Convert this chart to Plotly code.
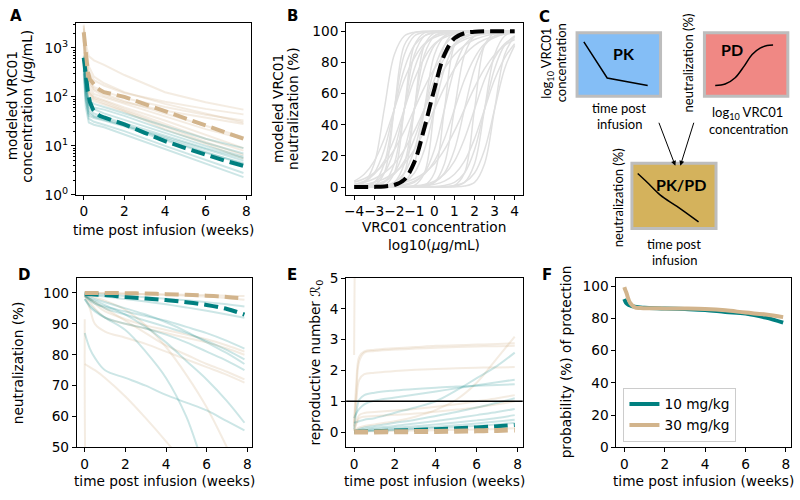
import plotly.graph_objects as go

# ---------------- data ----------------
# Panel A: modeled VRC01 concentration (ug/mL) vs weeks
tA_mean = [0, 0.05, 0.1, 0.2, 0.3, 0.45, 0.6, 0.8, 1, 2, 3, 4, 5, 6, 7, 7.86]
concA_10 = [630, 420, 260, 130, 80, 56, 47, 41, 38, 27.5, 18.5, 12.5, 9, 6.6, 4.9, 3.9]
concA_30 = [2100, 1200, 700, 330, 230, 190, 160, 138, 125, 100, 72, 51, 36, 26, 18.5, 14]
tA_thin = [0, 0.1, 0.25, 0.5, 1, 2, 4, 6, 7.86]
concA_10_indiv = [
    [600, 160, 52, 41, 36, 27, 14, 7.5, 4.2],
    [450, 95, 36, 31, 27, 20, 10, 5.2, 2.8],
    [300, 62, 30, 27, 24, 17, 8.5, 4.3, 2.3],
    [700, 210, 75, 56, 46, 34, 18, 10, 6],
    [520, 130, 68, 61, 55, 41, 21, 11.5, 7],
    [560, 150, 85, 72, 62, 46, 25, 14, 9],
    [400, 105, 46, 39, 34, 26, 15, 8.5, 5],
    [650, 185, 62, 46, 39, 29, 16, 9, 5.6],
    [350, 82, 41, 37, 33, 25, 13, 7.2, 4.5],
]
concA_30_indiv = [
    [2500, 1200, 680, 560, 450, 280, 125, 78, 55],
    [2000, 650, 320, 220, 170, 120, 80, 57, 44],
    [3000, 750, 260, 160, 130, 95, 62, 43, 33],
    [1800, 420, 160, 115, 98, 72, 40, 22, 14],
    [1500, 320, 125, 95, 82, 56, 28, 14, 8],
    [2200, 520, 210, 145, 115, 82, 46, 26, 15],
    [1200, 260, 105, 82, 70, 50, 22, 11, 5.5],
    [2800, 950, 420, 260, 190, 125, 72, 46, 30],
    [1600, 360, 135, 102, 86, 61, 33, 17, 9],
    [2000, 470, 190, 135, 105, 78, 52, 38, 28],
    [1400, 300, 120, 90, 75, 52, 25, 12, 6.5],
]

# Panel B: neutralization (%) vs log10 concentration
xB = [-4, -3.5, -3, -2.5, -2, -1.5, -1, -0.5, 0, 0.5, 1, 1.5, 2, 2.5, 3, 3.5, 4]
neutB_mean = [0, 0, 0.1, 0.4, 1.3, 4.8, 16, 38, 63, 85, 95.5, 98.8, 99.7, 100, 100, 100, 100]
neutB_indiv = [
    [0, 0.1, 1, 9, 50, 91, 99, 100, 100, 100, 100, 100, 100, 100, 100, 100, 100],
    [1, 3, 9, 24, 50, 76, 91, 97, 99, 99.7, 100, 100, 100, 100, 100, 100, 100],
    [0, 0.1, 0.6, 3, 15, 50, 85, 97, 99.4, 99.9, 100, 100, 100, 100, 100, 100, 100],
    [1.7, 3.8, 8.2, 16.6, 31, 50, 69, 83, 92, 96, 98.3, 99.2, 99.6, 99.8, 100, 100, 100],
    [0, 0, 0, 0.1, 1, 9, 50, 91, 99, 100, 100, 100, 100, 100, 100, 100, 100],
    [0.1, 0.3, 1, 3, 9, 24, 50, 76, 91, 97, 99, 99.7, 100, 100, 100, 100, 100],
    [3.1, 5.3, 9.1, 15, 24, 36, 50, 64, 76, 85, 91, 94.7, 96.9, 98.2, 99, 99.4, 99.7],
    [0, 0, 0, 0.1, 0.6, 3, 15, 50, 85, 97, 99.4, 99.9, 100, 100, 100, 100, 100],
    [0.4, 0.8, 1.7, 3.8, 8.2, 16.6, 31, 50, 69, 83, 92, 96, 98.3, 99.2, 99.6, 99.8, 99.9],
    [0, 0, 0.1, 0.3, 1, 3, 9, 24, 50, 76, 91, 97, 99, 99.7, 100, 100, 100],
    [1, 1.7, 3.1, 5.3, 9.1, 15, 24, 36, 50, 64, 76, 85, 91, 94.7, 96.9, 98.2, 99],
    [0, 0, 0, 0, 0, 0, 0.1, 1, 9, 50, 91, 99, 100, 100, 100, 100, 100],
    [0, 0, 0, 0.1, 0.3, 1, 3, 9, 24, 50, 76, 91, 97, 99, 99.7, 100, 100],
    [0, 0, 0, 0, 0, 0, 0.1, 0.6, 3, 15, 50, 85, 97, 99.4, 99.9, 100, 100],
    [0, 0, 0, 0, 0, 0.1, 0.3, 1, 3, 9, 24, 50, 76, 91, 97, 99, 99.7],
    [0, 0, 0, 0, 0, 0, 0, 0, 0, 0.1, 1, 9, 50, 91, 99, 100, 100],
    [0, 0, 0, 0.1, 0.2, 0.4, 0.8, 1.7, 3.8, 8.2, 16.6, 31, 50, 69, 83, 92, 96],
    [0, 0, 0, 0, 0, 0, 0, 0, 0, 0.1, 0.6, 3, 15, 50, 85, 97, 99.4],
    [0, 0, 0, 0, 0, 0, 0, 0.1, 0.3, 1, 3, 9, 24, 50, 76, 91, 97],
    [0, 0, 0, 0, 0, 0, 0, 0, 0.1, 0.3, 1, 3, 9, 24, 50, 76, 91],
    [0, 0, 0, 0, 0, 0, 0, 0, 0, 0, 0.1, 0.6, 3, 15, 50, 85, 97],
    [0.6, 3, 15, 50, 85, 97, 99.4, 99.9, 100, 100, 100, 100, 100, 100, 100, 100, 100],
    [0, 0, 0.1, 1, 9, 50, 91, 99, 100, 100, 100, 100, 100, 100, 100, 100, 100],
    [3.8, 8.2, 16.6, 31, 50, 69, 83, 92, 96, 98.3, 99.2, 99.6, 99.8, 100, 100, 100, 100],
    [0, 0.1, 0.3, 1, 3, 9, 24, 50, 76, 91, 97, 99, 99.7, 100, 100, 100, 100],
    [0, 0, 0, 0, 0, 0.1, 1, 9, 50, 91, 99, 100, 100, 100, 100, 100, 100],
    [0, 0.1, 0.2, 0.4, 0.8, 1.7, 3.8, 8.2, 16.6, 31, 50, 69, 83, 92, 96, 98.3, 99.2],
    [0.3, 1, 3, 9, 24, 50, 76, 91, 97, 99, 99.7, 100, 100, 100, 100, 100, 100],
    [0, 0, 0, 0, 0.1, 0.2, 0.4, 0.8, 1.7, 3.8, 8.2, 16.6, 31, 50, 69, 83, 92],
    [0, 0, 0.1, 0.6, 3, 15, 50, 85, 97, 99.4, 99.9, 100, 100, 100, 100, 100, 100],
    [0.1, 0.6, 3, 15, 50, 85, 97, 99.4, 99.9, 100, 100, 100, 100, 100, 100, 100, 100],
    [1.7, 3.1, 5.3, 9.1, 15, 24, 36, 50, 64, 76, 85, 91, 94.7, 96.9, 98.2, 99, 99.4],
    [0.2, 0.3, 0.6, 1, 1.7, 3.1, 5.3, 9.1, 15, 24, 36, 50, 64, 76, 85, 91, 94.7],
]

# Panel D: neutralization (%) vs weeks
tD = [0, 0.25, 0.5, 1, 2, 3, 4, 5, 6, 7, 7.86]
neutD_10 = [99.7, 99.6, 99.5, 99.3, 98.7, 98.2, 97.7, 97, 96.1, 94.8, 93]
neutD_30 = [100, 100, 100, 100, 99.9, 99.8, 99.6, 99.4, 99.1, 98.7, 98.2]
neutD_10_indiv = [
    [99.5, 99.3, 99.1, 98.8, 98, 97.2, 96.3, 95.3, 94.2, 93, 92],
    [99.8, 99.7, 99.6, 99.4, 99, 98.6, 98.1, 97.6, 97, 96.3, 95.6],
    [99, 97.5, 96.5, 95.5, 94, 92.5, 91, 89, 87, 84.5, 82],
    [99.5, 98, 97, 95, 93, 91, 89, 87, 84.5, 81.5, 78.5],
    [98, 95.5, 94, 92, 90, 88.5, 86.5, 84, 81, 78, 75],
    [99, 98.5, 98, 97, 95, 93, 90.5, 87.5, 84, 80.5, 77],
    [99, 98, 97.5, 96, 93, 89, 84, 78, 72, 65, 58],
    [87, 82, 79, 75, 72.5, 70, 67, 64.5, 62, 58.5, 55.5],
    [98, 96, 94.5, 92, 88, 81, 72.5, 60, 42, 30, 20],
]
neutD_30_indiv = [
    [100, 100, 100, 100, 99.8, 99.6, 99.4, 99.1, 98.8, 98.3, 97.8],
    [100, 99.9, 99.9, 99.8, 99.7, 99.6, 99.5, 99.4, 99.3, 99.1, 99],
    [99, 95, 90, 87.5, 85.5, 83.5, 81, 78.5, 76, 73.5, 71],
    [99.5, 97, 95, 92, 90, 88.5, 87, 85.5, 84, 82, 80],
    [99.5, 98, 96.5, 94, 91.5, 89.5, 88, 86.5, 85, 83, 81],
    [99, 98, 97, 95, 91, 87, 83, 80, 77, 74.5, 72],
    [99.5, 99, 98.5, 97.5, 94.5, 89.5, 82.5, 73.5, 63, 50, 38],
    [77, 76, 75, 72.5, 66.5, 59.5, 52, 44, 36, 28, 22],
    [91.5, 10, 5, 3, 2, 1.5, 1, 1, 1, 1, 1],
]

# Panel E: reproductive number R0 vs weeks
tE = [0, 0.1, 0.25, 0.5, 1, 2, 3, 4, 5, 6, 7, 7.86]
r0E_10 = [0.01, 0.01, 0.02, 0.02, 0.03, 0.05, 0.07, 0.09, 0.12, 0.15, 0.19, 0.23]
r0E_30 = [0, 0, 0, 0, 0.005, 0.01, 0.015, 0.02, 0.03, 0.04, 0.055, 0.07]
r0E_10_indiv = [
    [0.1, 0.6, 1.05, 1.2, 1.28, 1.35, 1.4, 1.44, 1.48, 1.5, 1.53, 1.55],
    [0.45, 0.6, 0.75, 0.9, 1.02, 1.12, 1.22, 1.32, 1.42, 1.52, 1.62, 1.7],
    [0.3, 0.32, 0.35, 0.4, 0.45, 0.63, 0.8, 1.0, 1.35, 1.75, 2.15, 2.58],
    [0.02, 0.05, 0.1, 0.15, 0.2, 0.3, 0.4, 0.52, 0.65, 0.8, 0.95, 1.1],
    [0.02, 0.04, 0.07, 0.1, 0.14, 0.2, 0.28, 0.36, 0.45, 0.55, 0.65, 0.75],
    [0.01, 0.02, 0.04, 0.06, 0.09, 0.14, 0.19, 0.25, 0.31, 0.38, 0.46, 0.55],
    [0.01, 0.02, 0.03, 0.04, 0.06, 0.09, 0.13, 0.17, 0.22, 0.28, 0.34, 0.4],
    [0.0, 0.01, 0.02, 0.03, 0.04, 0.07, 0.1, 0.13, 0.16, 0.2, 0.25, 0.3],
]
r0E_30_indiv = [
    [2.5, 9, 12, 15, 20, 20, 20, 20, 20, 20, 20, 20],
    [0.3, 1.5, 2.45, 2.62, 2.67, 2.72, 2.76, 2.8, 2.82, 2.84, 2.86, 2.88],
    [0.2, 1.2, 2.3, 2.58, 2.63, 2.68, 2.71, 2.74, 2.76, 2.78, 2.79, 2.8],
    [0.15, 0.9, 1.7, 1.88, 1.93, 1.98, 2.02, 2.05, 2.07, 2.09, 2.1, 2.11],
    [0.05, 0.1, 0.15, 0.2, 0.25, 0.35, 0.5, 0.72, 1.05, 1.6, 2.4, 3.1],
    [0.05, 0.3, 0.55, 0.62, 0.65, 0.7, 0.75, 0.82, 0.9, 1.0, 1.1, 1.2],
    [0.05, 0.25, 0.45, 0.5, 0.52, 0.56, 0.6, 0.66, 0.73, 0.8, 0.9, 1.0],
    [0, 0.01, 0.02, 0.02, 0.03, 0.04, 0.05, 0.06, 0.07, 0.08, 0.1, 0.12],
]
r0_threshold = 1

# Panel F: probability (%) of protection vs weeks
tF = [0, 0.05, 0.1, 0.2, 0.3, 0.5, 0.8, 1, 2, 3, 4, 5, 6, 7, 7.86]
protF_10 = [92, 90.5, 89.5, 88.5, 88, 87.3, 86.8, 86.6, 86.2, 85.8, 85.2, 84, 83, 80.5, 77.4]
protF_30 = [99.4, 97.5, 96, 92, 89.4, 87, 86.4, 86.3, 86.2, 86.1, 85.8, 85, 83.6, 82.4, 80.8]
dose_labels = ["10 mg/kg", "30 mg/kg"]

# Panel C schematic curves (diagram units)
pk_sketch_x = [583.3, 606.7, 647.3]
pk_sketch_y = [35, 72.3, 80]
pd_sketch_x = [715, 725, 735, 744, 752, 760, 767, 773]
pd_sketch_y = [80, 78.5, 72, 60, 48, 41.5, 38.8, 38.3]
pkpd_sketch_x = [637.3, 646.7, 660, 676.7, 698.3]
pkpd_sketch_y = [171, 180, 193.3, 205, 221]

# ---------------- styles ----------------
TEAL = "#008080"
TAN = "#d2b48c"
TEAL_L = "rgba(0,128,128,0.2)"
TAN_L = "rgba(210,180,140,0.25)"
GREY = "#e0e0e0"
FONT = "DejaVu Sans"
FS = 13.7
W, H = 800, 500
DASH = "14px,6px"


def px(x):
    return x / W


def py(y):
    return 1 - y / H


fig = go.Figure()


def add(x, y, ax, color, width, dash=None, shape="linear", name=None, legend=False):
    fig.add_trace(go.Scatter(
        x=x, y=y, mode="lines", xaxis="x" + ax, yaxis="y" + ax,
        line=dict(color=color, width=width, dash=dash, shape=shape),
        name=name, showlegend=legend, hoverinfo="skip"))


# A
for c in concA_30_indiv:
    add(tA_thin, c, "", TAN_L, 2)
for c in concA_10_indiv:
    add(tA_thin, c, "", TEAL_L, 2)
add(tA_mean, concA_10, "", TEAL, 4, DASH)
add(tA_mean, concA_30, "", TAN, 4, DASH)

# B
for c in neutB_indiv:
    add(xB, c, "2", GREY, 1.5, shape="spline")
add(xB, neutB_mean, "2", "black", 4, DASH, shape="spline")

# D
for c in neutD_30_indiv:
    add(tD, c, "3", TAN_L, 2, shape="spline")
for c in neutD_10_indiv:
    add(tD, c, "3", TEAL_L, 2, shape="spline")
add(tD, neutD_10, "3", TEAL, 4, DASH, shape="spline")
add(tD, neutD_30, "3", TAN, 4, DASH, shape="spline")

# E
for c in r0E_30_indiv:
    add(tE, c, "4", TAN_L, 2, shape="spline")
for c in r0E_10_indiv:
    add(tE, c, "4", TEAL_L, 2, shape="spline")
add(tE, r0E_10, "4", TEAL, 4, DASH, shape="spline")
add(tE, r0E_30, "4", TAN, 5, DASH, shape="spline")

# F
add(tF, protF_10, "5", TEAL, 4, shape="spline", name=dose_labels[0], legend=True)
add(tF, protF_30, "5", TAN, 4, shape="spline", name=dose_labels[1], legend=True)

# C sketches
add(pk_sketch_x, pk_sketch_y, "6", "black", 1.5)
add(pd_sketch_x, pd_sketch_y, "6", "black", 1.5, shape="spline")
add(pkpd_sketch_x, pkpd_sketch_y, "6", "black", 1.5, shape="spline")

axis_style = dict(showline=True, linecolor="black", linewidth=1, mirror=True,
                  ticks="outside", ticklen=4, tickwidth=1, tickcolor="black",
                  showgrid=False, zeroline=False, tickangle=0,
                  tickfont=dict(family=FONT, size=FS, color="black"))

weeks = [0, 2, 4, 6, 8]
layout_axes = dict(
    xaxis=dict(domain=[px(74), px(250)], range=[-0.39, 8.25], tickvals=weeks, anchor="y", **axis_style),
    yaxis=dict(domain=[py(193), py(16)], type="log", range=[0, 3.5], anchor="x",
               tickvals=[1, 10, 100, 1000],
               ticktext=["10<sup>0</sup>", "10<sup>1</sup>", "10<sup>2</sup>", "10<sup>3</sup>"],
               minor=dict(ticks="outside", ticklen=2, tickwidth=0.8, tickcolor="black",
                          tickvals=[m * 10 ** k for k in range(0, 4) for m in range(2, 10)]),
               **axis_style),
    xaxis2=dict(domain=[px(345), px(522)], range=[-4.4, 4.4], tickvals=list(range(-4, 5)), anchor="y2", **axis_style),
    yaxis2=dict(domain=[py(193), py(16)], range=[-5, 105], tickvals=[0, 20, 40, 60, 80, 100], anchor="x2", **axis_style),
    xaxis3=dict(domain=[px(75), px(251)], range=[-0.39, 8.25], tickvals=weeks, anchor="y3", **axis_style),
    yaxis3=dict(domain=[py(454), py(279)], range=[50, 104.8], tickvals=[50, 60, 70, 80, 90, 100], anchor="x3", **axis_style),
    xaxis4=dict(domain=[px(345), px(522)], range=[-0.39, 8.25], tickvals=weeks, anchor="y4", **axis_style),
    yaxis4=dict(domain=[py(454), py(279)], range=[-0.5, 5], tickvals=[0, 1, 2, 3, 4, 5], anchor="x4", **axis_style),
    xaxis5=dict(domain=[px(616), px(791)], range=[-0.39, 8.25], tickvals=weeks, anchor="y5", **axis_style),
    yaxis5=dict(domain=[py(454), py(279)], range=[0, 105], tickvals=[0, 20, 40, 60, 80, 100], anchor="x5", **axis_style),
    xaxis6=dict(domain=[px(530), 1], range=[530, 800], visible=False, anchor="y6"),
    yaxis6=dict(domain=[py(262), 1], range=[262, 0], visible=False, anchor="x6"),
)

ann = []


def text(x, y, s, size=FS, angle=0, bold=False, family=FONT):
    ann.append(dict(x=px(x), y=py(y), xref="paper", yref="paper", text=("<b>%s</b>" % s) if bold else s,
                    showarrow=False, xanchor="center", yanchor="middle", textangle=angle,
                    font=dict(family=family, size=size, color="black")))


# panel letters
for lab, x, y in [("A", 13.8, 8.7), ("B", 291.3, 8.7), ("C", 544, 9), ("D", 21.7, 276), ("E", 291, 275.5), ("F", 546.7, 275.5)]:
    text(x, y, lab, size=15, bold=True)

# axis titles
text(162, 229, "time post infusion (weeks)")
text(9.5, 101, "modeled VRC01", angle=-90)
text(25, 101, "concentration (<i>μ</i>g/mL)", angle=-90)
text(433.5, 226.7, "VRC01 concentration")
text(433.5, 244.5, "log10(<i>μ</i>g/mL)")
text(276, 104, "modeled VRC01", angle=-90)
text(291, 104, "neutralization (%)", angle=-90)
text(163, 488.5, "time post infusion (weeks)")
text(433.5, 488.5, "time post infusion (weeks)")
text(703, 488.5, "time post infusion (weeks)")
text(16, 366, "neutralization (%)", angle=-90)
text(315, 366, "reproductive number <i>ℛ</i><sub>0</sub>", angle=-90)
text(565.5, 366, "probability (%) of protection", angle=-90)

# panel C texts
CF = "Lato"
CS = 13
text(623.3, 47.3, "PK", size=16, bold=True, family=CF)
text(731.7, 43.3, "PD", size=16, bold=True, family=CF)
text(680.7, 182.3, "PK/PD", size=16, bold=True, family=CF)
text(619, 103.5, "time post", size=CS, family=CF)
text(619, 119.5, "infusion", size=CS, family=CF)
text(747, 108, "log<sub>10</sub> VRC01", size=CS, family=CF)
text(748, 125, "concentration", size=CS, family=CF)
text(547, 57, "log<sub>10</sub> VRC01", size=CS, angle=-90, family=CF)
text(560.5, 57, "concentration", size=CS, angle=-90, family=CF)
text(688, 57, "neutralization (%)", size=CS, angle=-90, family=CF)
text(617, 196, "neutralization (%)", size=CS, angle=-90, family=CF)
text(674, 244, "time post", size=CS, family=CF)
text(674, 260, "infusion", size=CS, family=CF)

# arrows
for (x0, y0, x1, y1) in [(658, 117, 675, 163), (694, 117, 680, 163)]:
    ann.append(dict(x=x1, y=y1, ax=x0, ay=y0, xref="x6", yref="y6", axref="x6", ayref="y6",
                    text="", showarrow=True, arrowhead=2, arrowsize=1, arrowwidth=1, arrowcolor="black"))

shapes = [
    dict(type="rect", xref="x6", yref="y6", x0=576.5, x1=660.2, y0=25.5, y1=91.2,
         fillcolor="#84bef6", line=dict(color="#bdbdbd", width=3), layer="below"),
    dict(type="rect", xref="x6", yref="y6", x0=704.2, x1=787.8, y0=25.5, y1=91.2,
         fillcolor="#f08884", line=dict(color="#bdbdbd", width=3), layer="below"),
    dict(type="rect", xref="x6", yref="y6", x0=631.5, x1=715.8, y0=160.5, y1=227.8,
         fillcolor="#d4b25c", line=dict(color="#bdbdbd", width=3), layer="below"),
    dict(type="line", xref="x4 domain", yref="y4", x0=0, x1=1, y0=r0_threshold, y1=r0_threshold,
         line=dict(color="black", width=1.5)),
]

fig.update_layout(
    width=W, height=H, autosize=False, margin=dict(l=0, r=0, t=0, b=0),
    paper_bgcolor="white", plot_bgcolor="white",
    font=dict(family=FONT, size=FS, color="black"),
    annotations=ann, shapes=shapes,
    legend=dict(x=px(623), y=py(448), xanchor="left", yanchor="bottom",
                bgcolor="rgba(255,255,255,0.8)", bordercolor="#cccccc", borderwidth=1,
                font=dict(family=FONT, size=FS, color="black"), tracegroupgap=2),
    **layout_axes,
)

fig.write_html("out.html", config={"displayModeBar": False},
               post_script="document.body.style.margin='0px';")
